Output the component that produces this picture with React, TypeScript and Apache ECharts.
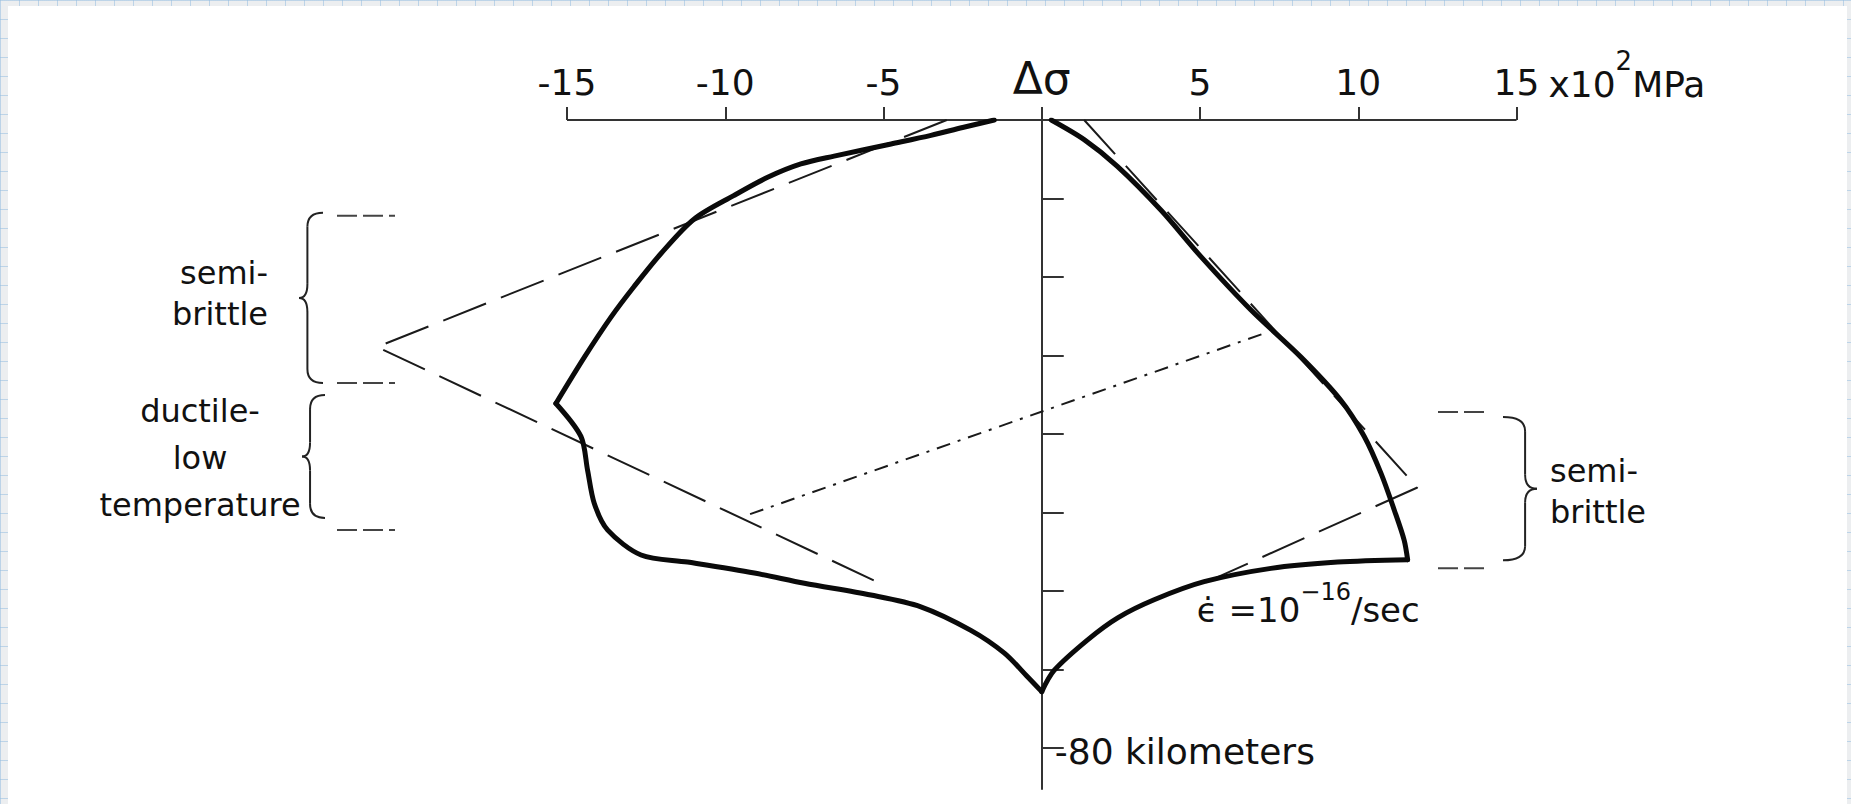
import React, { useEffect, useRef } from "react";
import * as echarts from "echarts";

// Stress difference axis (x10^2 MPa) and depth axis (km)
const stressTicks = [-15, -10, -5, 0, 5, 10, 15];
const stressAxisSpan = [[-15, 0], [15, 0]];
const depthTicks = [10, 20, 30, 40, 50, 60, 70, 80];
const depthLabelled = 80;

// Strength envelope for strain rate 1e-16/sec (thick curve), in four pieces between its corners
const tensionUpper = [
  [-1.5, 0], [-2.5, 0.95], [-3.5, 1.95], [-4.76, 3.05], [-6.56, 4.6], [-7.61, 5.6],
  [-8.66, 7.3], [-9.72, 9.6], [-10.98, 12.6], [-12.03, 17.0], [-12.88, 21.2],
  [-13.61, 25.1], [-14.45, 30.2], [-15.35, 36.1],
];
const tensionLower = [
  [-15.35, 36.1], [-14.56, 40.3], [-14.35, 44.6], [-14.14, 48.8], [-13.72, 52.2],
  [-12.66, 55.4], [-11.19, 56.3], [-9.08, 57.7], [-7.5, 59.0], [-5.4, 60.5],
  [-3.82, 62.0], [-2.24, 65.0], [-1.18, 67.9], [-0.45, 70.9], [0, 72.8],
];
const compressionLower = [
  [0, 72.8], [0.39, 70.1], [1.45, 66.2], [2.4, 63.4], [3.55, 61.1], [5.13, 58.8],
  [7.24, 57.1], [9.35, 56.3], [11.56, 56.0],
];
const compressionUpper = [
  [11.56, 56.0], [11.45, 53.5], [11.14, 49.7], [10.72, 45.0], [10.19, 40.3],
  [9.45, 35.7], [8.19, 30.2], [6.61, 24.2], [5.03, 17.4], [3.77, 11.5],
  [2.39, 5.9], [1.34, 2.5], [0.3, 0],
];

// Idealised envelopes (dashed) and the dash-dot reference line
const tensionWedge = [[-3.0, 0], [-21.0, 28.9], [-4.9, 59.4]];
const compressionWedge = [[1.34, 0], [11.87, 46.8], [4.9, 59.4]];
const dashDotLine = [[6.94, 27.3], [-9.36, 50.4]];

// Deformation regimes (depth bounds, km)
const leftRegimes = [
  { name: "semi-\nbrittle", top: 12.2, bottom: 33.5 },
  { name: "ductile-\nlow\ntemperature", top: 33.5, bottom: 52.2 },
];
const rightRegimes = [{ name: "semi-\nbrittle", top: 37.2, bottom: 57.1 }];

const FONT = "DejaVu Sans";
const INK = "#111";

function brace(xEnd: number, xTip: number, yTop: number, yBot: number) {
  const yMid = (yTop + yBot) / 2;
  const xs = xTip + (xEnd - xTip) * 0.35;
  const r = Math.min(14, (yBot - yTop) / 6);
  const st = { stroke: "#222", lineWidth: 2, fill: "none" };
  return [
    { type: "bezierCurve", shape: { x1: xEnd, y1: yTop, cpx1: xs, cpy1: yTop, x2: xs, y2: yTop + r }, style: st },
    { type: "line", shape: { x1: xs, y1: yTop + r, x2: xs, y2: yMid - r }, style: st },
    { type: "bezierCurve", shape: { x1: xs, y1: yMid - r, cpx1: xs, cpy1: yMid, x2: xTip, y2: yMid }, style: st },
    { type: "bezierCurve", shape: { x1: xTip, y1: yMid, cpx1: xs, cpy1: yMid, x2: xs, y2: yMid + r }, style: st },
    { type: "line", shape: { x1: xs, y1: yMid + r, x2: xs, y2: yBot - r }, style: st },
    { type: "bezierCurve", shape: { x1: xs, y1: yBot - r, cpx1: xs, cpy1: yBot, x2: xEnd, y2: yBot }, style: st },
  ];
}

export default function App() {
  const ref = useRef<HTMLDivElement>(null);

  useEffect(() => {
    if (!ref.current) return;
    const chart = echarts.init(ref.current, null, { renderer: "svg" });

    const solid = (data: number[][]) => ({
      type: "line",
      data,
      smooth: 0.3,
      symbol: "none",
      lineStyle: { color: "#0a0a0a", width: 5, cap: "round", join: "round" },
      z: 4,
    });
    const dashed = (data: number[][], dash: number[]) => ({
      type: "line",
      data,
      symbol: "none",
      lineStyle: { color: "#1a1a1a", width: 2, type: dash },
      z: 3,
    });

    chart.setOption({
      animation: false,
      backgroundColor: "transparent",
      grid: { left: 250.5, right: 176.25, top: 120, bottom: 15, containLabel: false },
      xAxis: {
        type: "value",
        position: "top",
        min: -25,
        max: 20,
        interval: 5,
        axisLine: { show: false, onZero: false },
        axisTick: { show: true, length: 13, customValues: stressTicks, lineStyle: { color: "#333", width: 2 } },
        splitLine: { show: false },
        axisLabel: {
          customValues: stressTicks,
          margin: 20,
          fontSize: 36,
          fontFamily: FONT,
          color: INK,
          formatter: (v: number) => (v === 0 ? "{g|Δσ}" : String(v)),
          rich: { g: { fontSize: 44, fontFamily: FONT, color: INK } },
        },
      },
      yAxis: {
        type: "value",
        inverse: true,
        min: 0,
        max: 85.2,
        interval: 10,
        axisLine: { onZero: true, lineStyle: { color: "#333", width: 2 } },
        axisTick: { show: true, inside: true, length: 22, customValues: depthTicks, lineStyle: { color: "#333", width: 2 } },
        splitLine: { show: false },
        axisLabel: { show: false },
      },
      series: [
        {
          type: "line",
          data: stressAxisSpan,
          symbol: "none",
          lineStyle: { color: "#333", width: 2 },
          z: 2,
        },
        solid(tensionUpper),
        solid(tensionLower),
        solid(compressionLower),
        solid(compressionUpper),
        dashed(tensionWedge, [46, 16]),
        dashed(compressionWedge, [46, 16]),
        dashed(dashDotLine, [14, 8, 3, 8]),
      ],
    });

    const yPx = (d: number) => chart.convertToPixel({ yAxisIndex: 0 }, d) as number;
    const xPx = (v: number) => chart.convertToPixel({ xAxisIndex: 0 }, v) as number;
    const markerStyle = { stroke: "#444", lineWidth: 2, lineDash: [20, 6] };

    const g: any[] = [];
    // Unit label beside the last tick of the stress axis
    g.push({
      type: "text",
      style: {
        text: "{m|x10}{s|2}{m|MPa}",
        x: xPx(15) + 32,
        y: 84,
        verticalAlign: "middle",
        rich: {
          m: { fontSize: 36, fontFamily: FONT, fill: INK, lineHeight: 72 },
          s: { fontSize: 26, fontFamily: FONT, fill: INK, lineHeight: 26, verticalAlign: "top" },
        },
      },
    });
    // Depth label on the vertical axis
    g.push({
      type: "text",
      style: {
        text: `-${depthLabelled} kilometers`,
        x: xPx(0) + 13,
        y: yPx(depthLabelled) + 3,
        verticalAlign: "middle",
        fontSize: 36,
        fontFamily: FONT,
        fill: INK,
      },
    });
    // Strain-rate label
    const [ex, ey] = chart.convertToPixel({ gridIndex: 0 }, [4.9, 59.4]) as number[];
    g.push({
      type: "text",
      style: {
        text: "{m|ϵ̇ =10}{s|−16}{m|/sec}",
        x: ex,
        y: ey + 24,
        verticalAlign: "middle",
        rich: {
          m: { fontSize: 34, fontFamily: FONT, fill: INK, lineHeight: 60 },
          s: { fontSize: 24, fontFamily: FONT, fill: INK, lineHeight: 24, verticalAlign: "top" },
        },
      },
    });

    // Left regimes: boundary markers, braces, names
    const leftBounds = [leftRegimes[0].top, leftRegimes[0].bottom, leftRegimes[1].bottom];
    leftBounds.forEach((d) => {
      g.push({ type: "line", shape: { x1: 337, y1: yPx(d), x2: 395, y2: yPx(d) }, style: markerStyle });
    });
    g.push(...brace(323, 299, yPx(leftRegimes[0].top) - 3, yPx(leftRegimes[0].bottom)));
    g.push(...brace(325, 302, yPx(leftRegimes[1].top) + 12, yPx(leftRegimes[1].bottom) - 12));
    g.push({
      type: "text",
      style: {
        text: leftRegimes[0].name, x: 268,
        y: (yPx(leftRegimes[0].top) + yPx(leftRegimes[0].bottom)) / 2 - 6,
        align: "right", verticalAlign: "middle", fontSize: 32, fontFamily: FONT, fill: INK, lineHeight: 41,
      },
    });
    g.push({
      type: "text",
      style: {
        text: leftRegimes[1].name, x: 200,
        y: (yPx(leftRegimes[1].top) + yPx(leftRegimes[1].bottom)) / 2 + 2,
        align: "center", verticalAlign: "middle", fontSize: 32, fontFamily: FONT, fill: INK, lineHeight: 47,
      },
    });

    // Right regime
    rightRegimes.forEach((r) => {
      [r.top, r.bottom].forEach((d) => {
        g.push({ type: "line", shape: { x1: 1438, y1: yPx(d), x2: 1490, y2: yPx(d) }, style: markerStyle });
      });
      g.push(...brace(1503, 1537, yPx(r.top) + 5, yPx(r.bottom) - 8));
      g.push({
        type: "text",
        style: {
          text: r.name, x: 1550, y: (yPx(r.top) + yPx(r.bottom)) / 2 + 1,
          align: "left", verticalAlign: "middle", fontSize: 32, fontFamily: FONT, fill: INK, lineHeight: 41,
        },
      });
    });

    chart.setOption({ graphic: g });
    return () => chart.dispose();
  }, []);

  return (
    <div
      style={{
        position: "absolute",
        left: 0,
        top: 0,
        width: 1851,
        height: 804,
        backgroundColor: "#eceef0",
        backgroundImage:
          "linear-gradient(to right, rgba(150,190,225,0.55) 1px, transparent 1px), linear-gradient(to bottom, rgba(150,190,225,0.55) 1px, transparent 1px)",
        backgroundSize: "19px 19px",
        overflow: "hidden",
      }}
    >
      <div style={{ position: "absolute", left: 8, top: 6, width: 1839, height: 798, background: "#fff" }} />
      <div ref={ref} style={{ position: "absolute", left: 0, top: 0, width: 1851, height: 804 }} />
    </div>
  );
}
